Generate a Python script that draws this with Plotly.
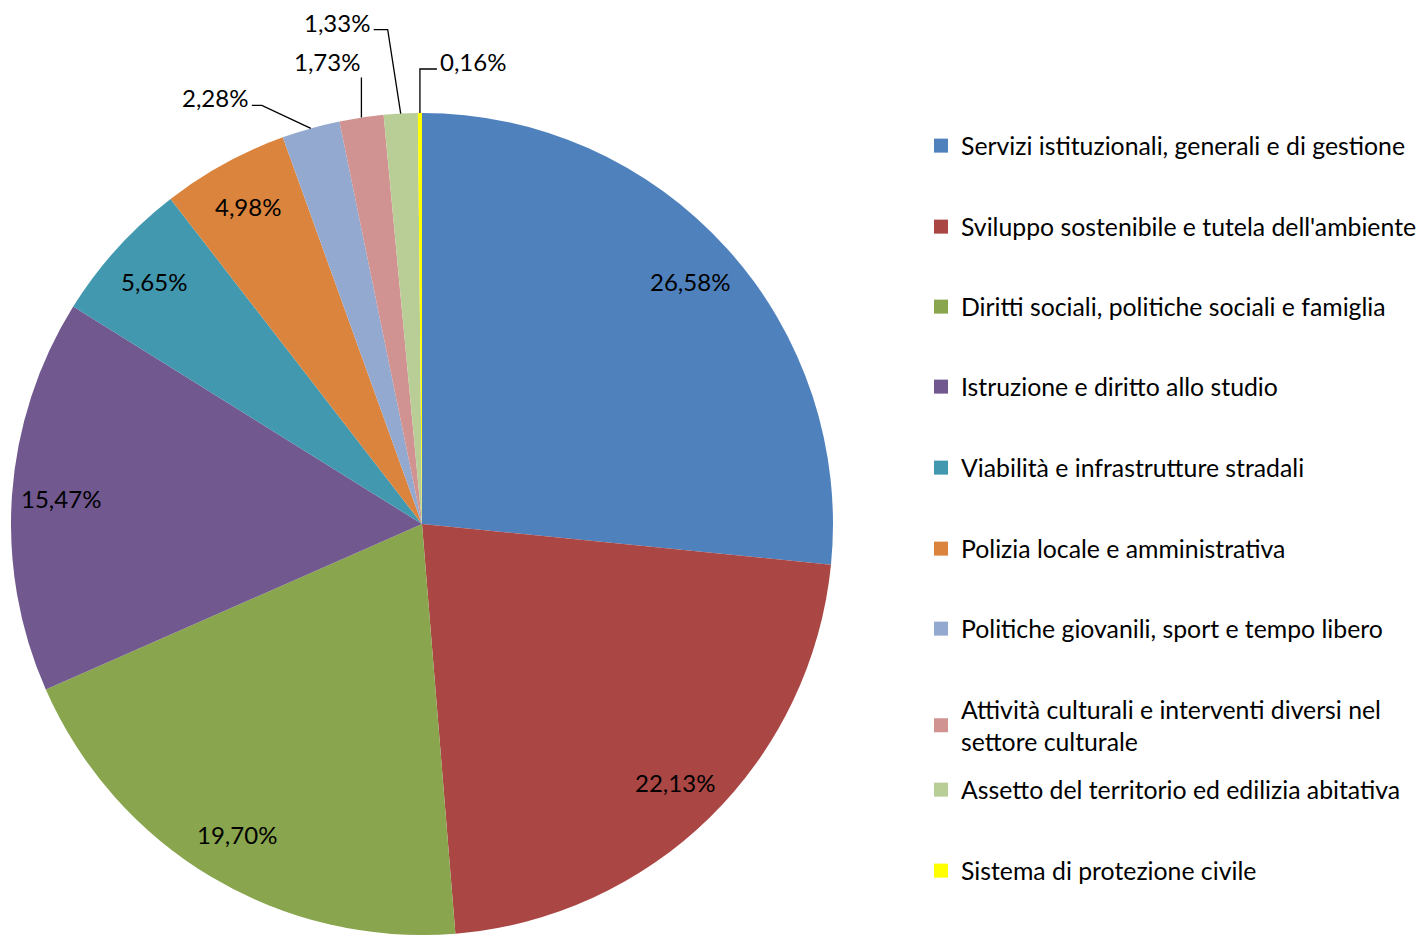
import math
import plotly.graph_objects as go

# ---------------- data ----------------
categories = [
    "Servizi istituzionali, generali e di gestione",
    "Sviluppo sostenibile e tutela dell'ambiente",
    "Diritti sociali, politiche sociali e famiglia",
    "Istruzione e diritto allo studio",
    "Viabilità e infrastrutture stradali",
    "Polizia locale e amministrativa",
    "Politiche giovanili, sport e tempo libero",
    "Attività culturali e interventi diversi nel<br>settore culturale",
    "Assetto del territorio ed edilizia abitativa",
    "Sistema di protezione civile",
]
values = [26.58, 22.13, 19.70, 15.47, 5.65, 4.98, 2.28, 1.73, 1.33, 0.16]

# ---------------- style ----------------
colors = ["#4F81BD", "#AA4644", "#89A54E", "#71588F", "#4198AF",
          "#DB843D", "#93A9CF", "#D19392", "#B9CD96", "#FFFF00"]

W, H = 1422, 935
FONT = "Lato"
FS = 24
LEG_FS = 24.8
CX, CY, R = 422, 524, 411          # pie centre / radius in pixels
INSIDE_R = 0.88                    # radial position of inside labels
INSIDE_MIN = 4.0                   # slices >= this get inside labels

# leader-line geometry for outside labels (pixel offsets):
# elbow offset from slice edge, horizontal tail length, text side, text dy
outside_style = {
    6: dict(elbow=(-49, -23), tail=-10, side="right", dy=-8),
    7: dict(elbow=(0, -40), tail=0, side="right", dy=-16, dx=3),
    8: dict(elbow=(-13, -84), tail=-14, side="right", dy=-7),
    9: dict(elbow=(0, -44), tail=17, side="left", dy=-8),
}
legend_rows = [146, 227, 307, 387, 468, 549, 629, 725.5, 790, 871]
LEGEND_TEXT_X = 961


def px(x):
    return x / W


def py(y):
    return 1 - y / H


def fmt(v):
    return f"{v:.2f}".replace(".", ",") + "%"


fig = go.Figure()
fig.add_trace(go.Pie(
    labels=[c.replace("<br>", " ") for c in categories],
    values=values,
    sort=False,
    direction="clockwise",
    rotation=0,
    marker=dict(colors=colors, line=dict(width=0)),
    textinfo="none",
    hoverinfo="label+percent",
    showlegend=False,
    domain=dict(x=[px(CX - R), px(CX + R)], y=[py(CY + R), py(CY - R)]),
))

total = sum(values)
annotations = []
shapes = []
cum = 0.0
for i, v in enumerate(values):
    mid = (cum + v / 2) / total
    cum += v
    th = 2 * math.pi * mid
    if v >= INSIDE_MIN:
        x = CX + INSIDE_R * R * math.sin(th)
        y = CY - INSIDE_R * R * math.cos(th)
        annotations.append(dict(
            x=px(x), y=py(y), xref="paper", yref="paper", text=fmt(v),
            showarrow=False, xanchor="center", yanchor="middle",
            font=dict(family=FONT, size=FS, color="black")))
    else:
        st = outside_style[i]
        ex = CX + R * math.sin(th)
        ey = CY - R * math.cos(th)
        bx, by = ex + st["elbow"][0], ey + st["elbow"][1]
        tx, ty = bx + st["tail"], by
        shapes.append(dict(
            type="path", xref="paper", yref="paper",
            path=f"M {px(ex)} {py(ey)} L {px(bx)} {py(by)} L {px(tx)} {py(ty)}",
            line=dict(color="black", width=1.3)))
        if st["side"] == "right":
            ax = tx - 2 + st.get("dx", 0)
            anchor = "right"
        else:
            ax = tx + 1
            anchor = "left"
        annotations.append(dict(
            x=px(ax), y=py(ty + st["dy"]), xref="paper", yref="paper",
            text=fmt(v), showarrow=False, xanchor=anchor, yanchor="middle",
            font=dict(family=FONT, size=FS, color="black")))

legend_layouts = {}
for i, (name, col) in enumerate(zip(categories, colors)):
    key = "legend" if i == 0 else f"legend{i + 1}"
    fig.add_trace(go.Scatter(
        x=[None], y=[None], mode="markers", name=name,
        marker=dict(symbol="square", size=14, color=col),
        legend=key, hoverinfo="skip"))
    legend_layouts[key] = dict(
        x=px(LEGEND_TEXT_X - 40), y=py(legend_rows[i]),
        xanchor="left", yanchor="middle",
        bgcolor="rgba(0,0,0,0)", borderwidth=0,
        font=dict(family=FONT, size=LEG_FS, color="black"))

fig.update_layout(
    width=W, height=H,
    margin=dict(l=0, r=0, t=0, b=0),
    paper_bgcolor="white", plot_bgcolor="white",
    xaxis=dict(visible=False, range=[0, 1]),
    yaxis=dict(visible=False, range=[0, 1]),
    annotations=annotations,
    shapes=shapes,
    showlegend=True,
    **legend_layouts,
)

fig.write_html("out.html", config={"displayModeBar": False},
               post_script="document.body.style.margin='0';")
